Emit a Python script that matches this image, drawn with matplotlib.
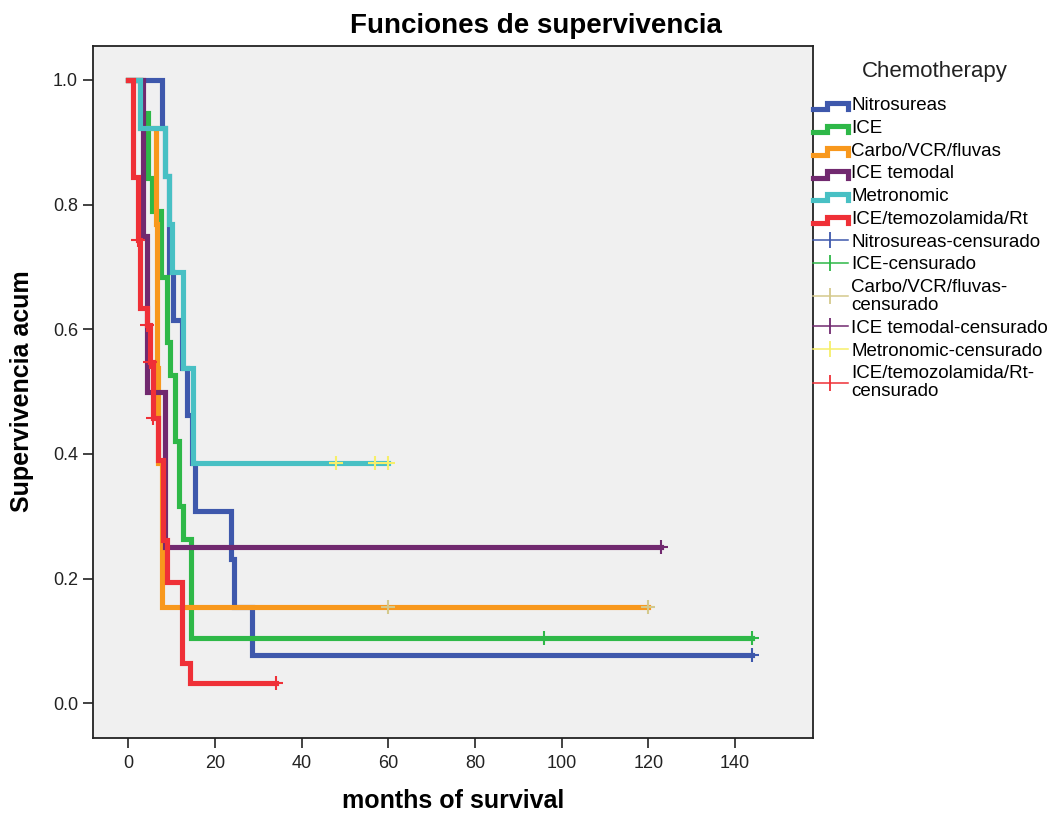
import numpy as np
import matplotlib.pyplot as plt
from matplotlib.legend_handler import HandlerBase
from matplotlib.lines import Line2D

plt.rcParams['font.family'] = ['Liberation Sans', 'DejaVu Sans']

# Kaplan-Meier steps (months, cumulative survival)
groups = ['Nitrosureas', 'ICE', 'Carbo/VCR/fluvas', 'ICE temodal', 'Metronomic', 'ICE/temozolamida/Rt']

nitro_t = [0, 7.8, 8.5, 9.5, 10.4, 12.4, 13.5, 14.7, 15.5, 23.6, 24.5, 28.5]
nitro_s = [1.0, 0.923, 0.846, 0.692, 0.615, 0.538, 0.462, 0.385, 0.308, 0.231, 0.154, 0.077]
nitro_cens = [144]

ice_t = [0, 3.0, 4.5, 5.4, 7.6, 8.9, 9.7, 10.8, 11.6, 12.6, 14.5]
ice_s = [1.0, 0.947, 0.842, 0.789, 0.684, 0.579, 0.526, 0.421, 0.316, 0.263, 0.105]
ice_cens = [96, 144]

carbo_t = [0, 2.8, 6.3, 6.6, 6.8, 7.8]
carbo_s = [1.0, 0.923, 0.769, 0.538, 0.385, 0.154]
carbo_cens = [60, 120]

temodal_t = [0, 3.3, 4.3, 8.4]
temodal_s = [1.0, 0.75, 0.5, 0.25]
temodal_cens = [123]

metro_t = [0, 2.6, 8.5, 9.3, 10.1, 12.6, 14.9]
metro_s = [1.0, 0.923, 0.846, 0.769, 0.692, 0.538, 0.385]
metro_cens = [48, 57, 60]

rt_t = [0, 1.2, 2.2, 2.6, 4.3, 5.0, 5.7, 6.8, 8.0, 9.0, 12.4, 14.3]
rt_s = [1.0, 0.845, 0.743, 0.634, 0.607, 0.547, 0.457, 0.39, 0.262, 0.195, 0.064, 0.032]
rt_cens = [2.2, 4.3, 5.0, 5.7, 34]

xticks = [0, 20, 40, 60, 80, 100, 120, 140]
yticks = [0.0, 0.2, 0.4, 0.6, 0.8, 1.0]

steps = [(nitro_t, nitro_s, nitro_cens), (ice_t, ice_s, ice_cens), (carbo_t, carbo_s, carbo_cens),
         (temodal_t, temodal_s, temodal_cens), (metro_t, metro_s, metro_cens), (rt_t, rt_s, rt_cens)]

line_colors = ['#3e58ac', '#2eb848', '#f8981d', '#71296f', '#48c0c4', '#ef3037']
cens_colors = ['#3e58ac', '#2eb848', '#d4c98c', '#71296f', '#f6ef6a', '#ef3037']


class StepHandler(HandlerBase):
    """Little SPSS-like step icon for the survival lines."""

    def create_artists(self, legend, orig_handle, xdescent, ydescent, width, height, fontsize, trans):
        x = np.array([0, 0.4, 0.4, 1.0, 1.0]) * width - xdescent
        y = np.array([0.05, 0.05, 0.55, 0.55, 0.05]) * height - ydescent
        line = Line2D(x, y, color=orig_handle.get_color(), lw=orig_handle.get_linewidth(),
                      solid_joinstyle='miter')
        line.set_transform(trans)
        return [line]


fig = plt.figure(figsize=(10.54, 8.14), dpi=100)
ax = fig.add_axes([92.7 / 1054, 1 - 738 / 814, 720 / 1054, 692 / 814])
ax.set_facecolor('#f0f0f0')

step_handles = []
cens_handles = []
for (t, s, cens), lc in zip(steps, line_colors):
    t_end = max(t[-1], max(cens))
    h, = ax.plot(t + [t_end], s + [s[-1]], drawstyle='steps-post', color=lc, lw=3.7,
                 solid_joinstyle='miter')
    step_handles.append(h)

for (t, s, cens), cc in zip(steps, cens_colors):
    idx = np.searchsorted(t, cens, side='right') - 1
    lev = np.array(s)[idx]
    ax.plot(cens, lev, ls='none', marker='+', ms=9.5, mew=1.5, color=cc, zorder=5)
    cens_handles.append(Line2D([], [], color=cc, lw=1.1, marker='|', ms=12, mew=1.3))

ax.set_xlim(-8.2, 157.9)
ax.set_ylim(-0.0557, 1.0545)
ax.set_xticks(xticks)
ax.set_yticks(yticks)
ax.set_yticklabels(['%.1f' % v for v in yticks])
ax.tick_params(direction='out', length=7.5, width=1.2, labelsize=13, colors='#222222',
               top=False, right=False)
ax.tick_params(axis='x', pad=5)
ax.tick_params(axis='y', pad=3)
for sp in ax.spines.values():
    sp.set_linewidth(1.3)
    sp.set_color('#222222')

fig.text(536 / 1054, 1 - 33 / 814, 'Funciones de supervivencia', ha='center', va='baseline',
         fontsize=20, fontweight='bold')
fig.text(453 / 1054, 1 - 801 / 814, 'months of survival', ha='center', va='center',
         fontsize=18, fontweight='bold')
fig.text(22 / 1054, 1 - 391 / 814, 'Supervivencia acum', ha='center', va='center',
         rotation=90, fontsize=18, fontweight='bold')

# legend title sits on its own, like SPSS
fig.text(935 / 1054, 1 - 77 / 814, 'Chemotherapy', ha='center', va='baseline',
         fontsize=16, color='#222222')

labels = groups + ['Nitrosureas-censurado', 'ICE-censurado', 'Carbo/VCR/fluvas-\ncensurado',
                   'ICE temodal-censurado', 'Metronomic-censurado', 'ICE/temozolamida/Rt-\ncensurado']
leg = ax.legend(step_handles + cens_handles, labels,
                handler_map={h: StepHandler() for h in step_handles},
                loc='upper left', bbox_to_anchor=(813 / 1054, 1 - 97 / 814),
                bbox_transform=fig.transFigure, frameon=False, borderpad=0, borderaxespad=0,
                fontsize=13.5, handlelength=1.85, handletextpad=0.2, labelspacing=0.3)
for txt in leg.get_texts():
    txt.set_linespacing(1.08)

fig.savefig('out.png', dpi=100)
